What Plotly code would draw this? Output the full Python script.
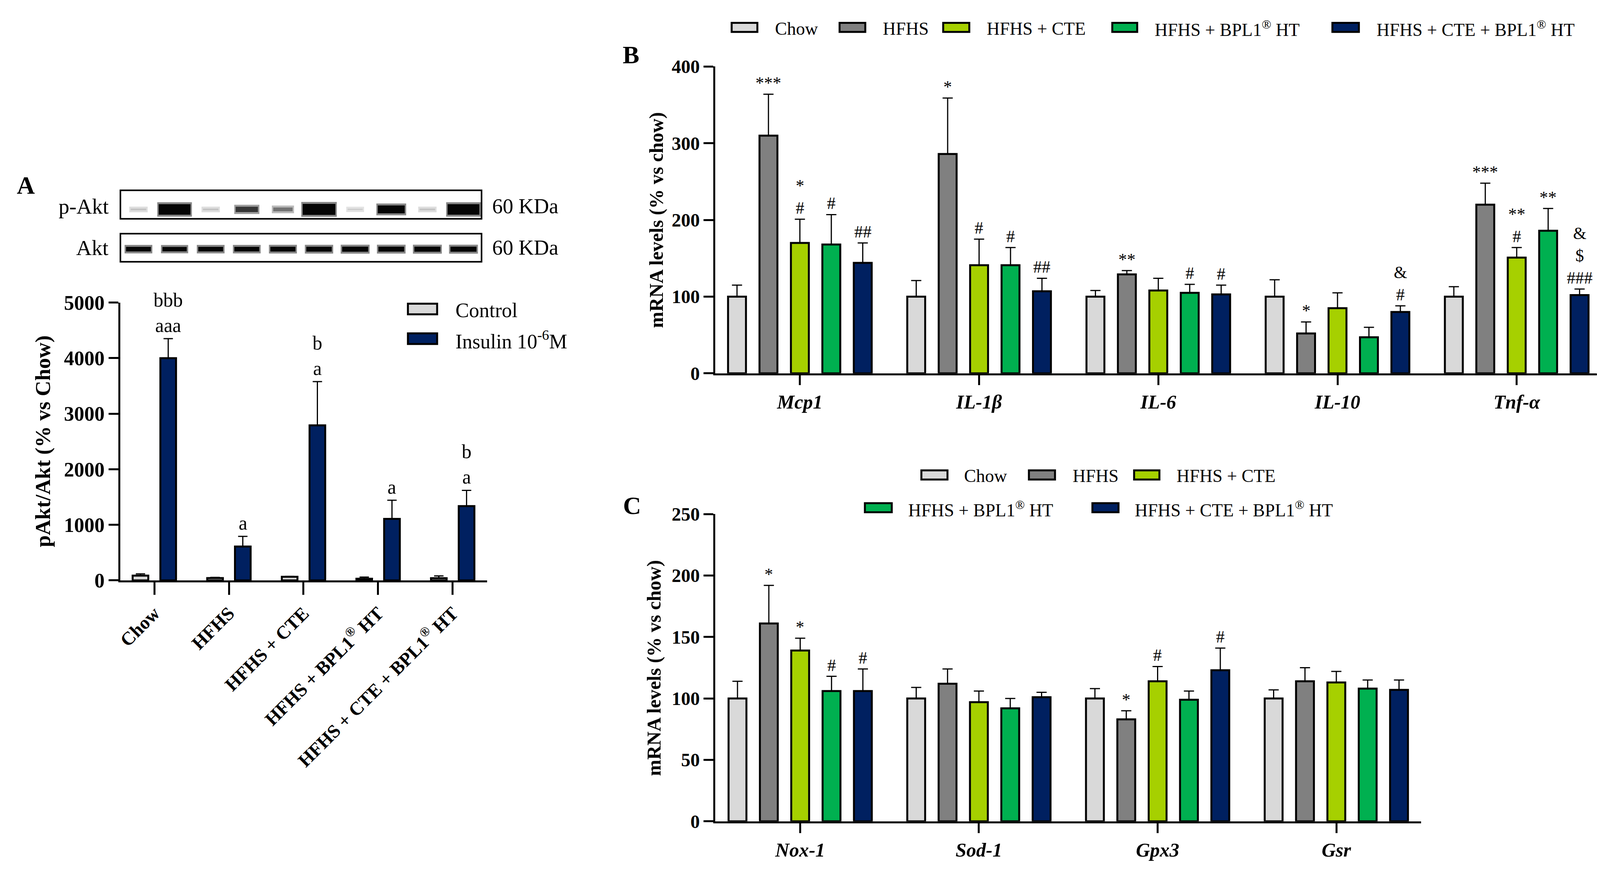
import plotly.graph_objects as go

W, H = 4123, 2230
def PX(x):
    return x / W
def PY(y):
    return 1 - y / H

SERIF = "Liberation Serif"

# ---------------- Panel A data ----------------
groups_A = ["Chow", "HFHS", "HFHS + CTE", "HFHS + BPL1<sup>®</sup> HT", "HFHS + CTE + BPL1<sup>®</sup> HT"]
control_A = [86, 42, 65, 29, 40]
control_A_sem = [32, 13, 8, 31, 41]
insulin_A = [4000, 610, 2790, 1106, 1337]
insulin_A_sem = [351, 183, 787, 336, 283]
sig_insulin_A = ["bbb<br>aaa", "a", "b<br>a", "a", "b<br>a"]
yticks_A = [0, 1000, 2000, 3000, 4000, 5000]

# western blot band signals (10 lanes, alternating control / insulin)
pakt_signal = [0.06, 1.0, 0.06, 0.45, 0.28, 1.05, 0.03, 0.72, 0.06, 1.0]
akt_signal = [0.9, 0.85, 0.9, 0.9, 0.92, 0.95, 1.0, 0.98, 1.0, 1.0]

# ---------------- Panel B data ----------------
genes_B = ["Mcp1", "IL-1β", "IL-6", "IL-10", "Tnf-α"]
chow_B = [100, 100, 100, 100, 100]
chow_B_sem = [15, 21, 8, 22, 13]
hfhs_B = [310, 286, 129, 52, 220]
hfhs_B_sem = [54, 73, 5, 15, 28]
cte_B = [170, 141, 108, 85, 151]
cte_B_sem = [31, 34, 16, 20, 13]
bpl1_B = [168, 141, 105, 47, 186]
bpl1_B_sem = [39, 23, 11, 13, 29]
ctebpl1_B = [144, 107, 103, 80, 102]
ctebpl1_B_sem = [26, 17, 12, 8, 8]
sig_B = [
    ["", "", "", "", ""],
    ["***", "*", "**", "*", "***"],
    ["*<br>#", "#", "", "", "**<br>#"],
    ["#", "#", "#", "", "**"],
    ["##", "##", "#", "&<br>#", "&<br>$<br>###"],
]
yticks_B = [0, 100, 200, 300, 400]

# ---------------- Panel C data ----------------
genes_C = ["Nox-1", "Sod-1", "Gpx3", "Gsr"]
chow_C = [100, 100, 100, 100]
chow_C_sem = [14, 9, 8, 7]
hfhs_C = [161, 112, 83, 114]
hfhs_C_sem = [31, 12, 7, 11]
cte_C = [139, 97, 114, 113]
cte_C_sem = [10, 9, 12, 9]
bpl1_C = [106, 92, 99, 108]
bpl1_C_sem = [12, 8, 7, 7]
ctebpl1_C = [106, 101, 123, 107]
ctebpl1_C_sem = [18, 4, 18, 8]
sig_C = [
    ["", "", "", ""],
    ["*", "", "*", ""],
    ["*", "", "#", ""],
    ["#", "", "", ""],
    ["#", "", "#", ""],
]
yticks_C = [0, 50, 100, 150, 200, 250]

series_names = ["Chow", "HFHS", "HFHS + CTE", "HFHS + BPL1<sup>®</sup> HT", "HFHS + CTE + BPL1<sup>®</sup> HT"]
series_colors = ["#d9d9d9", "#808080", "#a6d000", "#00b050", "#002060"]
ctrl_colors_A = ["#d9d9d9", "#002060"]

fig = go.Figure()

# ---------------- Panel A bars ----------------
A_W = 0.21
A_C = [-0.186, 0.186]
xa = list(range(len(groups_A)))
for k, (vals, sem, col, name) in enumerate([
        (control_A, control_A_sem, ctrl_colors_A[0], "Control"),
        (insulin_A, insulin_A_sem, ctrl_colors_A[1], "Insulin 10-6M")]):
    fig.add_trace(go.Bar(
        x=xa, y=vals, width=A_W, offset=A_C[k] - A_W / 2, name=name,
        marker=dict(color=col, line=dict(color="black", width=5)),
        error_y=dict(type="data", array=sem, arrayminus=[0] * len(sem), symmetric=False,
                     color="black", thickness=3, width=12),
        xaxis="x", yaxis="y", showlegend=False))

annotations = []
for i, t in enumerate(sig_insulin_A):
    annotations.append(dict(x=i + A_C[1], y=insulin_A[i] + insulin_A_sem[i], xref="x", yref="y",
                            text=t, showarrow=False, yanchor="bottom", yshift=4,
                            font=dict(family=SERIF, size=50, color="black")))

# ---------------- Blot (drawn as blurred bands) ----------------
def band(lane, yc, s, base_thick, gain_thick, hw0, hwg):
    thick = base_thick + gain_thick * s
    hw = hw0 + hwg * s
    dark = min(1.0, 0.12 + 1.5 * s)
    g_core = int(round(245 - 240 * dark))
    g_halo = int(round(245 - 110 * dark))
    for (extra, g, ehw) in [(10, g_halo, 0.04), (0, g_core, 0.0)]:
        fig.add_trace(go.Scatter(x=[lane - hw - ehw, lane + hw + ehw], y=[yc, yc], mode="lines",
                                 line=dict(color=f"rgb({g},{g},{g})", width=thick + extra),
                                 xaxis="x4", yaxis="y4", showlegend=False, hoverinfo="skip"))

for lane, s in enumerate(pakt_signal):
    band(lane, 1.86, s, 3, 24, 0.2, 0.24)
for lane, s in enumerate(akt_signal):
    band(lane, 0.45, s, 2, 11, 0.2, 0.16)

# ---------------- Panels B & C bars ----------------
BW = 0.10
PITCH = 0.1754
def add_panel(genes, series, sems, sigs, xa_name, ya_name):
    xs = list(range(len(genes)))
    for j, (vals, sem) in enumerate(zip(series, sems)):
        c = (j - 2) * PITCH
        fig.add_trace(go.Bar(
            x=xs, y=vals, width=BW, offset=c - BW / 2, name=series_names[j],
            marker=dict(color=series_colors[j], line=dict(color="black", width=5)),
            error_y=dict(type="data", array=sem, arrayminus=[0] * len(sem), symmetric=False,
                         color="black", thickness=3, width=13),
            xaxis=xa_name, yaxis=ya_name, showlegend=False))
        for i, t in enumerate(sigs[j]):
            if t:
                annotations.append(dict(x=i + c, y=vals[i] + sem[i], xref=xa_name, yref=ya_name,
                                        text=t, showarrow=False, yanchor="bottom", yshift=2,
                                        font=dict(family=SERIF, size=44, color="black")))

add_panel(genes_B, [chow_B, hfhs_B, cte_B, bpl1_B, ctebpl1_B],
          [chow_B_sem, hfhs_B_sem, cte_B_sem, bpl1_B_sem, ctebpl1_B_sem], sig_B, "x2", "y2")
add_panel(genes_C, [chow_C, hfhs_C, cte_C, bpl1_C, ctebpl1_C],
          [chow_C_sem, hfhs_C_sem, cte_C_sem, bpl1_C_sem, ctebpl1_C_sem], sig_C, "x3", "y3")

# ---------------- Axes ----------------
def xax(domain, rng, ticktext, anchor, ticklen, font, angle=0):
    return dict(domain=domain, range=rng, tickmode="array", tickvals=list(range(len(ticktext))),
                ticktext=ticktext, tickangle=angle, ticks="outside", ticklen=ticklen, tickwidth=5,
                tickcolor="black", showline=True, linewidth=5, linecolor="black", showgrid=False,
                zeroline=False, anchor=anchor, tickfont=font)

def yax(domain, rng, tickvals, anchor, font):
    return dict(domain=domain, range=rng, tickmode="array", tickvals=tickvals,
                ticktext=[str(v) for v in tickvals], ticks="outside", ticklen=25, tickwidth=5,
                tickcolor="black", showline=True, linewidth=5, linecolor="black", showgrid=False,
                zeroline=False, anchor=anchor, tickfont=font)

fA_x = dict(family=SERIF, size=48, color="black", weight="bold")
fA_y = dict(family=SERIF, size=52, color="black", weight="bold")
fB_x = dict(family=SERIF, size=50, color="black", weight="bold", style="italic")
fB_y = dict(family=SERIF, size=48, color="black", weight="bold")

layout = dict(
    width=W, height=H, margin=dict(l=0, r=0, t=0, b=0),
    paper_bgcolor="white", plot_bgcolor="white", barmode="overlay", showlegend=False,
    xaxis=xax([PX(290), PX(1231)], [-0.455, 4.46], groups_A, "y", 32, fA_x, angle=-45),
    yaxis=yax([PY(1488), PY(758)], [0, 5000], yticks_A, "x", fA_y),
    xaxis2=xax([PX(1817), PX(4094)], [-0.472, 4.478], genes_B, "y2", 25, fB_x),
    yaxis2=yax([PY(944), PY(138)], [0, 400], yticks_B, "x2", fB_y),
    xaxis3=xax([PX(1817), PX(3629)], [-0.475, 3.475], genes_C, "y3", 25, fB_x),
    yaxis3=yax([PY(2121), PY(1314)], [0, 250], yticks_C, "x3", fB_y),
    xaxis4=dict(domain=[PX(290), PX(1217)], range=[-0.5, 9.5], visible=False, anchor="y4"),
    yaxis4=dict(domain=[PY(651), PY(463)], range=[0, 2.54], visible=False, anchor="x4"),
)
fig.update_layout(**layout)

# ---------------- Decorations: blot boxes, legends, titles ----------------
shapes = []
shapes.append(dict(type="rect", xref="paper", yref="paper", x0=PX(290), x1=PX(1217), y0=PY(538), y1=PY(463),
                   line=dict(color="black", width=4), fillcolor="rgba(0,0,0,0)", layer="above"))
shapes.append(dict(type="rect", xref="paper", yref="paper", x0=PX(290), x1=PX(1217), y0=PY(651), y1=PY(577),
                   line=dict(color="black", width=4), fillcolor="rgba(0,0,0,0)", layer="above"))

def txt(x, y, text, size, xanchor="left", bold=False, angle=0):
    f = dict(family=SERIF, size=size, color="black")
    if bold:
        f["weight"] = "bold"
    annotations.append(dict(x=PX(x), y=PY(y), xref="paper", yref="paper", text=text, showarrow=False,
                            xanchor=xanchor, yanchor="middle", font=f, textangle=angle))

def legend_box(x0, x1, yc, h, color):
    shapes.append(dict(type="rect", xref="paper", yref="paper", x0=PX(x0), x1=PX(x1),
                       y0=PY(yc + h / 2), y1=PY(yc - h / 2), line=dict(color="black", width=5),
                       fillcolor=color))

# blot labels
txt(262, 505, "p-Akt", 55, xanchor="right")
txt(262, 614, "Akt", 55, xanchor="right")
txt(1242, 505, "60 KDa", 54)
txt(1242, 614, "60 KDa", 54)

# panel letters
txt(47, 450, "A", 64, xanchor="center", bold=True)
txt(1601, 107, "B", 64, xanchor="center", bold=True)
txt(1603, 1292, "C", 64, xanchor="center", bold=True)

# axis titles
txt(91, 1123, "pAkt/Akt (% vs Chow)", 55, xanchor="center", bold=True, angle=-90)
txt(1666, 541, "mRNA levels (% vs chow)", 50, xanchor="center", bold=True, angle=-90)
txt(1660, 1718, "mRNA levels (% vs chow)", 50, xanchor="center", bold=True, angle=-90)

# legend A
legend_box(1028, 1103, 775, 28, ctrl_colors_A[0])
legend_box(1028, 1103, 853, 28, ctrl_colors_A[1])
txt(1148, 778, "Control", 52)
txt(1148, 856, "Insulin 10<sup>-6</sup>M", 52)

# legend B
lb_boxes = [(1859, 1925), (2136, 2202), (2402, 2469), (2836, 2900), (3401, 3469)]
lb_text = [1968, 2245, 2512, 2943, 3512]
for j in range(5):
    legend_box(lb_boxes[j][0], lb_boxes[j][1], 35, 24, series_colors[j])
    txt(lb_text[j], 38, series_names[j], 46)

# legend C
lc_boxes = [(2346, 2413, 1211), (2622, 2689, 1211), (2892, 2957, 1211), (2201, 2270, 1297), (2785, 2852, 1297)]
lc_text = [2454, 2732, 2999, 2310, 2892]
for j in range(5):
    legend_box(lc_boxes[j][0], lc_boxes[j][1], lc_boxes[j][2], 24, series_colors[j])
    txt(lc_text[j], lc_boxes[j][2] + 3, series_names[j], 46)

fig.update_layout(shapes=shapes, annotations=annotations)
fig.write_html("out.html")
